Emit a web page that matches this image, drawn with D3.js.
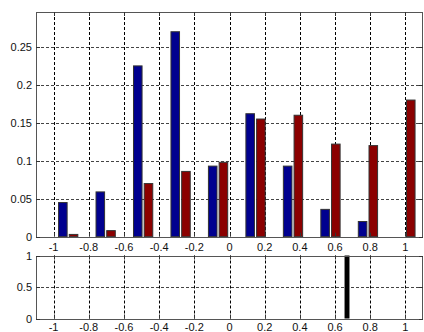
<!DOCTYPE html>
<html>
<head>
<meta charset="utf-8">
<script src="https://cdn.jsdelivr.net/npm/d3@7"></script>
<style>
html,body{margin:0;padding:0;background:#fff;}
svg{display:block;}
text{font-family:"Liberation Sans",Arial,sans-serif;font-size:11px;fill:#111;}
</style>
</head>
<body>
<svg id="chart" width="424" height="332"></svg>
<script>
// ---- data ----
const binCenters = [-0.917, -0.704, -0.491, -0.278, -0.065, 0.148, 0.361, 0.574, 0.787, 1.0];
const seriesBlue = [0.045, 0.059, 0.225, 0.270, 0.093, 0.162, 0.093, 0.036, 0.020, 0];
const seriesRed  = [0.003, 0.008, 0.070, 0.086, 0.098, 0.155, 0.160, 0.122, 0.120, 0.180];
const xTicks = [-1, -0.8, -0.6, -0.4, -0.2, 0, 0.2, 0.4, 0.6, 0.8, 1];
const yTicksTop = [0, 0.05, 0.1, 0.15, 0.2, 0.25];
const yTicksBottom = [0, 0.5, 1];
const markerX = [0.668];
const markerValue = [1];

const svg = d3.select("#chart");
const left = 36, right = 423;

const x = d3.scaleLinear().domain([-1.1, 1.1]).range([left, right]);
const yTop = d3.scaleLinear().domain([0, 0.296]).range([236.7, 12]);
const yBot = d3.scaleLinear().domain([0, 1]).range([318.5, 255.5]);

const fmt = d => (d === 0 ? "0" : String(d));

function panel(y, yTicks) {
  const g = svg.append("g");
  const [y0, y1] = y.range();
  g.append("rect").attr("x", left).attr("y", y1).attr("width", right - left).attr("height", y0 - y1)
    .attr("fill", "#fff");
  g.selectAll(".vg").data(xTicks).enter().append("line")
    .attr("x1", d => Math.round(x(d)) + 0.5).attr("x2", d => Math.round(x(d)) + 0.5)
    .attr("y1", y1).attr("y2", y0)
    .attr("stroke", "#000").attr("stroke-width", 1).attr("stroke-dasharray", "3,2");
  g.selectAll(".hg").data(yTicks.filter(t => t > 0)).enter().append("line")
    .attr("y1", d => Math.round(y(d)) + 0.5).attr("y2", d => Math.round(y(d)) + 0.5)
    .attr("x1", left).attr("x2", right)
    .attr("stroke", "#444").attr("stroke-width", 1).attr("stroke-dasharray", "3,2");
  return g;
}

function frame(y, yTicks, labelDy) {
  const g = svg.append("g");
  const [y0, y1] = y.range();
  g.append("rect").attr("x", left + 0.5).attr("y", Math.round(y1) + 0.5)
    .attr("width", right - left - 1).attr("height", Math.round(y0) - Math.round(y1))
    .attr("fill", "none").attr("stroke", "#555").attr("stroke-width", 1);
  const tl = 4;
  xTicks.forEach(t => {
    const xx = Math.round(x(t)) + 0.5;
    g.append("line").attr("x1", xx).attr("x2", xx).attr("y1", y0).attr("y2", y0 - tl).attr("stroke", "#333");
    g.append("line").attr("x1", xx).attr("x2", xx).attr("y1", y1).attr("y2", y1 + tl).attr("stroke", "#333");
  });
  yTicks.forEach(t => {
    const yy = Math.round(y(t)) + 0.5;
    g.append("line").attr("x1", left).attr("x2", left + tl).attr("y1", yy).attr("y2", yy).attr("stroke", "#333");
    g.append("line").attr("x1", right - tl).attr("x2", right).attr("y1", yy).attr("y2", yy).attr("stroke", "#333");
  });
  g.selectAll(".xl").data(xTicks).enter().append("text")
    .attr("x", d => x(d)).attr("y", y0 + labelDy).attr("text-anchor", "middle").text(fmt);
  g.selectAll(".yl").data(yTicks).enter().append("text")
    .attr("x", left - 4).attr("y", d => y(d) + 4).attr("text-anchor", "end").text(fmt);
}

// ---- top panel ----
panel(yTop, yTicksTop);
const step = binCenters[1] - binCenters[0];
const slot = step * 0.2857;
const bw = slot * 0.8;
const barsG = svg.append("g");
[[seriesBlue, "#00008f", -0.5], [seriesRed, "#8b0000", 0.5]].forEach(([vals, col, off]) => {
  barsG.selectAll(null).data(vals.map((v, i) => ({v, c: binCenters[i]})).filter(d => d.v > 0))
    .enter().append("rect")
    .attr("x", d => x(d.c + off * slot - bw / 2))
    .attr("width", d => x(d.c + off * slot + bw / 2) - x(d.c + off * slot - bw / 2))
    .attr("y", d => yTop(d.v))
    .attr("height", d => yTop(0) - yTop(d.v))
    .attr("fill", col).attr("stroke", "#333").attr("stroke-width", 1);
});
frame(yTop, yTicksTop, 14);

// ---- bottom panel ----
panel(yBot, yTicksBottom);
const mw = 0.028;
svg.append("g").selectAll(null).data(markerX.map((c, i) => ({c, v: markerValue[i]}))).enter().append("rect")
  .attr("x", d => x(d.c - mw / 2)).attr("width", d => x(d.c + mw / 2) - x(d.c - mw / 2))
  .attr("y", d => yBot(d.v)).attr("height", d => yBot(0) - yBot(d.v))
  .attr("fill", "#000");
frame(yBot, yTicksBottom, 12);
</script>
</body>
</html>
